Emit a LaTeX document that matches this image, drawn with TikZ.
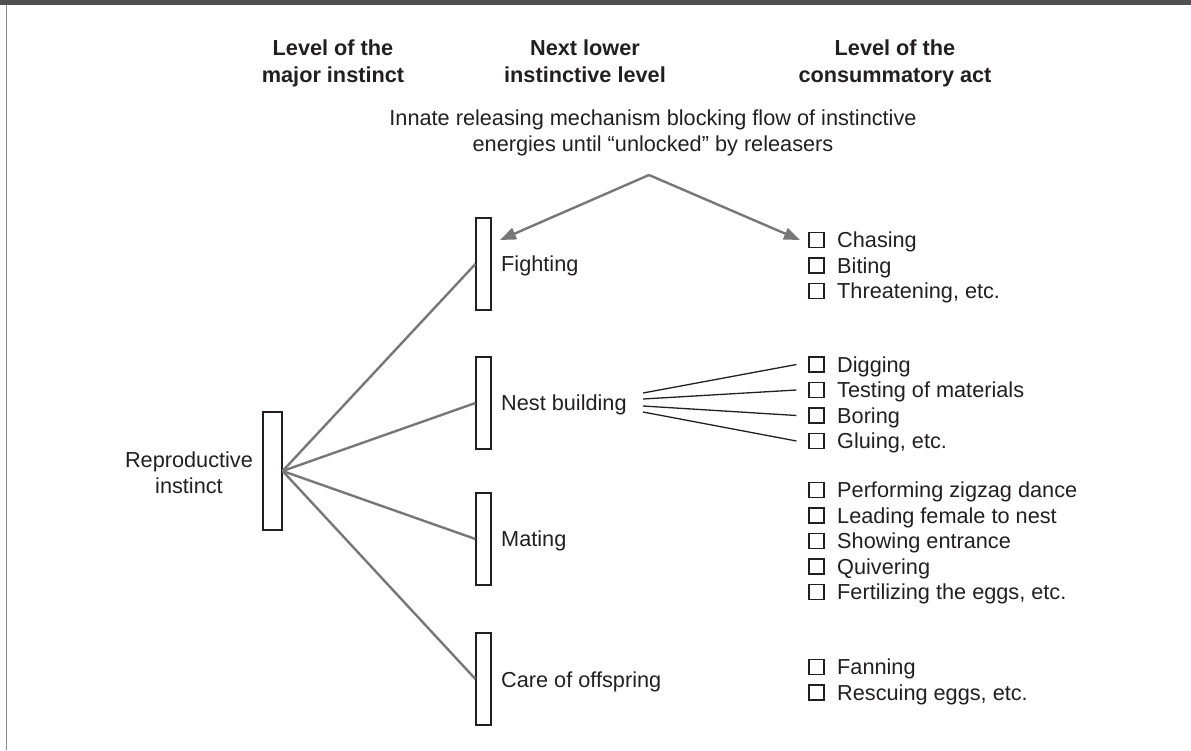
\documentclass[tikz,border=0pt]{standalone}
\usepackage{fontspec}
\setmainfont{Liberation Sans}
\usetikzlibrary{arrows.meta,calc}
\definecolor{band}{HTML}{505050}
\definecolor{conncol}{HTML}{777777}
\definecolor{ink}{HTML}{231F20}
\definecolor{framecol}{HTML}{8A8A8A}
\tikzset{
  hdr/.style={font=\fontsize{21.7}{26.5}\selectfont\bfseries, align=center, text=ink, inner sep=0pt},
  txt/.style={font=\fontsize{21.7}{26}\selectfont, text=ink, inner sep=0pt},
  barbox/.style={draw=ink, line width=1.2pt, fill=white, minimum width=15pt, minimum height=92pt, inner sep=0pt},
  connline/.style={draw=conncol, line width=2.4pt},
  arrline/.style={draw=conncol, line width=2.4pt, -{Triangle[length=16pt,width=12pt]}},
  fanline/.style={draw=ink, line width=1.3pt},
  chk/.style={draw=ink, line width=1.1pt, minimum size=15pt, inner sep=0pt},
  framel/.style={draw=framecol, line width=1pt},
}
\newcommand\actitem[3]{%
  \node[chk] (b#1) at (816.5,#2) {};
  \node[txt, anchor=base west] (t#1) at (837,#2+7.7) {#3};}
\begin{document}
\begin{tikzpicture}[x=1pt,y=-1pt]
\useasboundingbox (0,0) rectangle (1191,750);
\fill[band] (0,0) rectangle (1191,5);
\draw[framel] (6.5,5) -- (6.5,750);

% headers
\node[hdr, anchor=north] (h1) at (333,40) {Level of the\\major instinct};
\node[hdr, anchor=north] (h2) at (585,40) {Next lower\\instinctive level};
\node[hdr, anchor=north] (h3) at (895,40) {Level of the\\consummatory act};

\node[txt, align=center, anchor=north] (innate) at (653,110)
  {Innate releasing mechanism blocking flow of instinctive\\energies until “unlocked” by releasers};

% bars
\node[barbox] (fight) at (483.5,264) {};
\node[barbox] (nest) at (483.5,403) {};
\node[barbox] (mate) at (483.5,539) {};
\node[barbox] (care) at (483.5,679) {};
\node[barbox, minimum width=19pt, minimum height=118pt] (repro) at (272.5,471) {};

% labels
\node[txt, anchor=base west] (lfight) at (501,271.5) {Fighting};
\node[txt, anchor=base west] (lnest) at (501,410.5) {Nest building};
\node[txt, anchor=base west] (lmate) at (501,546.5) {Mating};
\node[txt, anchor=base west] (lcare) at (501,687) {Care of offspring};
\node[txt, align=center] (lrepro) at (189,472.6) {Reproductive\\instinct};

% connectors from major instinct
\draw[connline] (repro.east) -- (fight.west);
\draw[connline] (repro.east) -- (nest.west);
\draw[connline] (repro.east) -- (mate.west);
\draw[connline] (repro.east) -- (care.west);

% arrows from the releasing mechanism
\coordinate (apex) at (649,175);
\coordinate (ltip) at (500,240);
\coordinate (rtip) at (800,240);
\draw[arrline] (apex) -- (ltip);
\draw[arrline] (apex) -- (rtip);

% consummatory acts
\actitem{chase}{240}{Chasing}
\actitem{bite}{265.5}{Biting}
\actitem{threat}{291}{Threatening, etc.}
\actitem{dig}{364.5}{Digging}
\actitem{test}{390}{Testing of materials}
\actitem{bore}{415.5}{Boring}
\actitem{glue}{441}{Gluing, etc.}
\actitem{zig}{490}{Performing zigzag dance}
\actitem{lead}{515.5}{Leading female to nest}
\actitem{show}{541}{Showing entrance}
\actitem{quiv}{566.5}{Quivering}
\actitem{fert}{592}{Fertilizing the eggs, etc.}
\actitem{fann}{667}{Fanning}
\actitem{resc}{692.5}{Rescuing eggs, etc.}

% fan from nest building
\coordinate (f1) at (643,393);
\coordinate (f2) at (643,399);
\coordinate (f3) at (643,406);
\coordinate (f4) at (643,412);
\draw[fanline] (f1) -- ($(bdig.west)+(-12,0)$);
\draw[fanline] (f2) -- ($(btest.west)+(-12,0)$);
\draw[fanline] (f3) -- ($(bbore.west)+(-12,0)$);
\draw[fanline] (f4) -- ($(bglue.west)+(-12,0)$);
\end{tikzpicture}
\end{document}
